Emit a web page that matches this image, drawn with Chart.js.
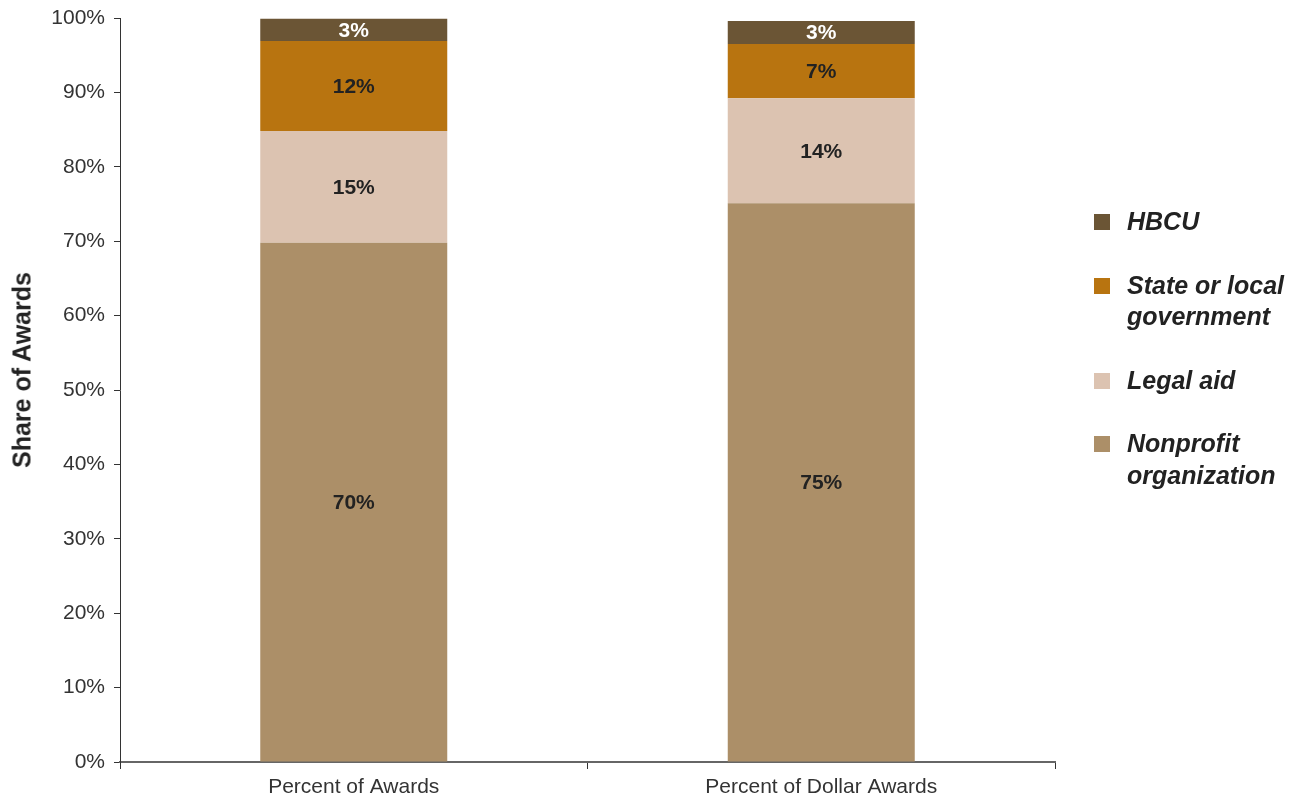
<!DOCTYPE html>
<html>
<head>
<meta charset="utf-8">
<title>Share of Awards</title>
<script src="https://cdn.jsdelivr.net/npm/chart.js@4.4.1/dist/chart.umd.min.js"></script>
<style>
  html, body { margin: 0; padding: 0; background: #fff; }
  body { font-family: "Liberation Sans", Arial, sans-serif; }
  .wrap { position: relative; width: 1307px; height: 800px; }
  .y-title {
    position: absolute; left: 22px; top: 370px;
    transform: translate(-50%, -50%) rotate(-90deg);
    white-space: nowrap; font-weight: bold; font-size: 25px; color: #222;
  }
  .legend { position: absolute; left: 1094px; top: 206px; }
  .legend .item { display: flex; align-items: flex-start; margin-bottom: 32px; }
  .legend .swatch { width: 16px; height: 16px; margin-top: 8px; margin-right: 17px; flex: none; }
  .legend .text {
    width: 180px; font-size: 25px; line-height: 31.5px;
    font-weight: bold; font-style: italic; color: #222;
  }
</style>
</head>
<body>
<div class="wrap">
  <canvas id="awardsChart"></canvas>
  <div class="y-title">Share of Awards</div>
  <div class="legend" id="legend"></div>
</div>
<script>
// ---- data ----
var CATEGORIES   = ['Percent of Awards', 'Percent of Dollar Awards'];
var SERIES_NAMES = ['Nonprofit organization', 'Legal aid', 'State or local government', 'HBCU'];
var NONPROFIT    = [69.8, 75.1];
var LEGAL_AID    = [15.0, 14.1];
var STATE_LOCAL  = [12.1, 7.3];
var HBCU         = [3.0, 3.1];
var Y_TICKS      = [0, 10, 20, 30, 40, 50, 60, 70, 80, 90, 100];

(function () {
  'use strict';

  var COLORS      = ['#ac8f68', '#dcc3b1', '#b87410', '#6b5535'];
  var LABEL_COLOR = ['#222', '#222', '#222', '#fff'];
  var SERIES      = [NONPROFIT, LEGAL_AID, STATE_LOCAL, HBCU];
  var FONT        = 'Liberation Sans, Arial, sans-serif';

  var datasets = SERIES.map(function (vals, i) {
    return {
      label:           SERIES_NAMES[i],
      data:            vals,
      backgroundColor: COLORS[i],
      borderWidth:     0,
      barPercentage:   0.4,
      categoryPercentage: 1,
    };
  });

  // value labels centred in each segment
  var barLabels = {
    id: 'barLabels',
    afterDatasetsDraw: function (chart) {
      var ctx = chart.ctx;
      ctx.save();
      ctx.font = 'bold 21px ' + FONT;
      ctx.textAlign = 'center';
      ctx.textBaseline = 'middle';
      chart.data.datasets.forEach(function (ds, i) {
        chart.getDatasetMeta(i).data.forEach(function (bar, j) {
          var c = bar.getCenterPoint();
          ctx.fillStyle = LABEL_COLOR[i];
          ctx.fillText(Math.round(ds.data[j]) + '%', c.x, c.y + 1);
        });
      });
      ctx.restore();
    },
  };

  new Chart(document.getElementById('awardsChart'), {
    type: 'bar',
    data: { labels: CATEGORIES, datasets: datasets },
    plugins: [barLabels],
    options: {
      responsive:          true,
      maintainAspectRatio: false,
      animation:           false,
      layout: { padding: { top: 18, right: 252, bottom: 0, left: 0 } },
      plugins: {
        legend:  { display: false },
        tooltip: { enabled: false },
      },
      scales: {
        x: {
          stacked: true,
          grid:   { offset: true, drawOnChartArea: false, drawTicks: true, tickLength: 7, color: '#333' },
          border: { display: true, color: '#666', width: 2 },
          ticks:  { font: { family: FONT, size: 21 }, color: '#333', padding: 6, maxRotation: 0 },
          afterFit: function (s) { s.height = 38; s.paddingLeft = 0; s.paddingRight = 0; },
        },
        y: {
          stacked: true,
          min: 0,
          max: 100,
          afterBuildTicks: function (s) { s.ticks = Y_TICKS.map(function (v) { return { value: v }; }); },
          grid:   { drawOnChartArea: false, drawTicks: true, tickLength: 6, color: '#333' },
          border: { display: true, color: '#333', width: 1 },
          ticks:  { font: { family: FONT, size: 21 }, color: '#333', padding: 9,
                    callback: function (v) { return v + '%'; } },
          afterFit: function (s) { s.width = 120; s.paddingTop = 0; s.paddingBottom = 0; },
        },
      },
    },
  });

  // legend, top series first
  var legend = document.getElementById('legend');
  for (var i = SERIES_NAMES.length - 1; i >= 0; i--) {
    var item = document.createElement('div');
    item.className = 'item';
    item.innerHTML = '<span class="swatch" style="background:' + COLORS[i] + '"></span>' +
                     '<span class="text">' + SERIES_NAMES[i] + '</span>';
    legend.appendChild(item);
  }
}());
</script>
</body>
</html>
